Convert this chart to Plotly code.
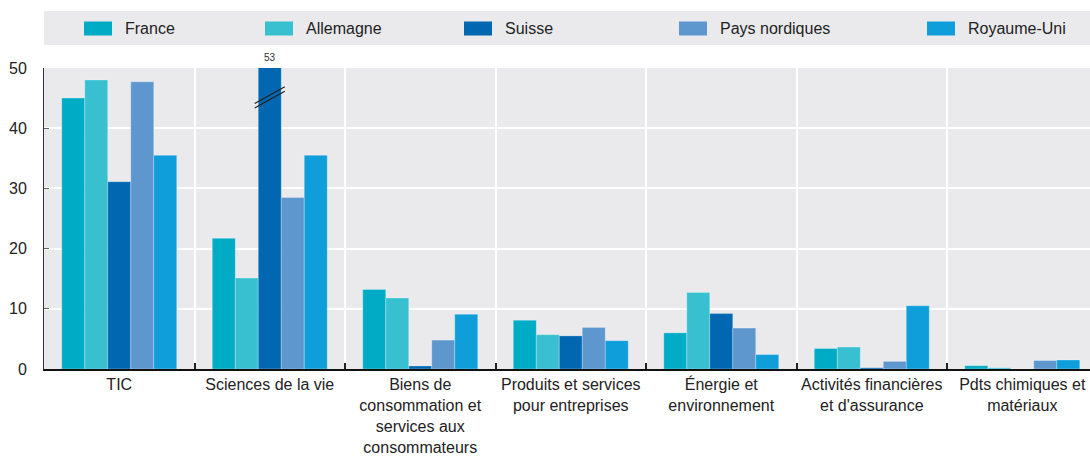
import plotly.graph_objects as go

# ---------------- data ----------------
categories = [
    "TIC",
    "Sciences de la vie",
    "Biens de<br>consommation et<br>services aux<br>consommateurs",
    "Produits et services<br>pour entreprises",
    "Énergie et<br>environnement",
    "Activités financières<br>et d'assurance",
    "Pdts chimiques et<br>matériaux",
]
series_names = ["France", "Allemagne", "Suisse", "Pays nordiques", "Royaume-Uni"]
france = [45.0, 21.7, 13.2, 8.1, 6.0, 3.4, 0.55]
allemagne = [48.0, 15.1, 11.8, 5.7, 12.7, 3.65, 0.2]
suisse = [31.1, 53.0, 0.5, 5.5, 9.2, 0.2, 0.0]
nordiques = [47.7, 28.5, 4.8, 6.9, 6.8, 1.26, 1.4]
royaume_uni = [35.5, 35.5, 9.1, 4.7, 2.4, 10.5, 1.5]
y_ticks = [0, 10, 20, 30, 40, 50]

# ---------------- style ----------------
colors = ["#00ABC5", "#38C0D0", "#0067B0", "#5E96CE", "#109EDA"]
FONT = "Liberation Sans, Arial, Helvetica, sans-serif"
FS = 16
BG = "#EAEAED"
Y_MAX = 50

W, H = 1090, 460
PLOT_L, PLOT_T, PLOT_R, PLOT_B = 44, 68, 1090, 369   # plot area in pixels
ML, MT, MR, MB = PLOT_L, PLOT_T, W - PLOT_R, H - PLOT_B

all_series = [france, allemagne, suisse, nordiques, royaume_uni]

fig = go.Figure()
for name, vals, col in zip(series_names, all_series, colors):
    fig.add_trace(go.Bar(
        name=name, x=categories, y=vals,
        marker=dict(color=col, line=dict(color="rgba(255,255,255,0.45)", width=0.6)),
        showlegend=False,
        hovertemplate="%{y}<extra>" + name + "</extra>",
    ))

plot_w = PLOT_R - PLOT_L
plot_h = PLOT_B - PLOT_T


def px_to_paper_x(px):
    return (px - PLOT_L) / plot_w


def px_to_paper_y(py):
    return (PLOT_B - py) / plot_h


shapes = []
annotations = []

# legend band
shapes.append(dict(type="rect", xref="paper", yref="paper",
                   x0=px_to_paper_x(44), x1=px_to_paper_x(1090),
                   y0=px_to_paper_y(45), y1=px_to_paper_y(11),
                   fillcolor=BG, line=dict(width=0), layer="below"))
legend_x = [84, 265, 464, 679, 927]
for lx, name, col in zip(legend_x, series_names, colors):
    shapes.append(dict(type="rect", xref="paper", yref="paper",
                       x0=px_to_paper_x(lx), x1=px_to_paper_x(lx + 28),
                       y0=px_to_paper_y(35.5), y1=px_to_paper_y(21.5),
                       fillcolor=col, line=dict(width=0)))
    annotations.append(dict(xref="paper", yref="paper", x=px_to_paper_x(lx + 39),
                            y=px_to_paper_y(29), xanchor="left", yanchor="middle",
                            text=name, showarrow=False,
                            font=dict(family=FONT, size=FS, color="#222")))

# clipped bars: value label and break marks
for si, vals in enumerate(all_series):
    for ci, v in enumerate(vals):
        if v > Y_MAX:
            off = (si - 2) * 0.153
            xc = ci + off
            annotations.append(dict(x=xc, y=Y_MAX, xref="x", yref="y",
                                    text=f"{v:g}", showarrow=False,
                                    yanchor="bottom", yshift=3,
                                    font=dict(family=FONT, size=10, color="#333")))
            for dy in (0.0, -0.75):
                shapes.append(dict(type="line", xref="x", yref="y",
                                   x0=xc - 0.1, x1=xc + 0.1,
                                   y0=Y_MAX - 5.9 + dy, y1=Y_MAX - 3.1 + dy,
                                   line=dict(color="#222", width=1.2)))

fig.update_layout(
    width=W, height=H,
    margin=dict(l=ML, r=MR, t=MT, b=MB, autoexpand=False),
    paper_bgcolor="white", plot_bgcolor=BG,
    barmode="group", bargap=0.236, bargroupgap=0,
    font=dict(family=FONT, size=FS, color="#222"),
    shapes=shapes, annotations=annotations,
    showlegend=False,
)
fig.update_xaxes(
    range=[-0.5, 6.45], showline=True, linecolor="#111", linewidth=2,
    ticks="inside", tickson="boundaries", ticklen=6, tickcolor="#222", tickwidth=1.5,
    showgrid=True, gridcolor="white", gridwidth=1.5,
    tickangle=0, automargin=False,
    tickfont=dict(family=FONT, size=FS, color="#222"),
)
fig.update_yaxes(
    range=[0, Y_MAX], tickvals=y_ticks, showline=True, linecolor="#333", linewidth=1,
    ticks="inside", ticklen=5, tickcolor="#666", ticklabelstandoff=13,
    showgrid=True, gridcolor="white", gridwidth=1.5, zeroline=False, automargin=False,
    tickfont=dict(family=FONT, size=FS, color="#222"),
)

fig.write_html(
    "out.html",
    config={"displayModeBar": False},
    post_script="document.body.style.margin='0';document.body.style.overflow='hidden';",
)
